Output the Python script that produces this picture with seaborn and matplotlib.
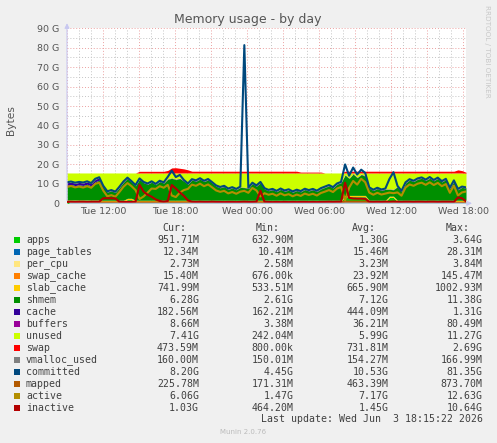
import numpy as np
import matplotlib
matplotlib.use("Agg")
import matplotlib.pyplot as plt
from matplotlib.patches import Rectangle
import seaborn as sns

sns.set_style("white")
plt.rcParams["font.family"] = ["DejaVu Sans"]

W, H = 497, 443

# time axis: hours since Tue 00:00, one sample about every 20 minutes
hours = np.linspace(9, 42.25, 100)
tick_hours = [12, 18, 24, 30, 36, 42]
tick_labels = ["Tue 12:00", "Tue 18:00", "Wed 00:00", "Wed 06:00", "Wed 12:00", "Wed 18:00"]
y_ticks = [0, 10, 20, 30, 40, 50, 60, 70, 80, 90]
y_labels = ["0", "10 G", "20 G", "30 G", "40 G", "50 G", "60 G", "70 G", "80 G", "90 G"]

# stacked areas (GB), near constant ones as runs
apps = [0.95] * 9 + [0.88] * 6 + [1.88] * 2 + [0.88] * 52 + [3.38] * 6 + [0.88] * 5 + [2.98] * 2 + [0.88] * 18
page_tables = [0.012] * 100
per_cpu = [0.003] * 100
swap_cache = [0.02] * 100
slab_cache = [0.70] * 9 + [0.65] * 91
shmem = [7.6, 8.0, 7.4, 7.8, 7.5, 8.1, 7.2, 9.4, 10.2,
         7.0, 4.2, 4.8, 4.0, 6.5, 9.2,
         10.2, 8.4,
         7.4, 10.8, 9.0, 8.2, 9.3, 8.0, 9.6, 8.8, 10.8, 11.3, 10.6, 11.2, 9.8, 8.2, 10.4, 9.8, 10.9, 9.6,
         10.5, 8.9, 7.2, 6.4, 7.0, 5.6, 6.3, 5.4, 6.6, 6.5, 6.0, 8.6, 7.2, 9.0, 5.8, 4.9, 5.4, 4.4, 5.6,
         4.6, 5.2, 4.1, 5.0, 4.3, 5.5, 4.8, 5.4, 4.5, 5.8, 6.6, 7.4, 6.3, 8.2, 9.0,
         10.5, 8.7, 11.0, 9.1, 10.7, 9.9,
         6.2, 5.0, 6.0, 5.1, 5.6,
         3.5, 3.3,
         7.0, 4.4, 8.8, 10.4, 9.6, 10.8, 11.3, 10.2, 11.3, 10.0, 11.2, 9.4, 10.6, 6.0, 9.8, 5.4, 6.6, 6.28]
cache = [1.25] * 9 + [0.22] * 91
buffers = [0.065] * 9 + [0.015] * 91
unused = [5.0, 4.6, 5.2, 4.8, 5.1, 4.5, 5.4, 3.2, 2.4,
          6.8, 9.6, 9.0, 9.8, 7.3, 4.6,
          2.6, 4.4,
          6.4, 3.0, 4.8, 5.6, 4.5, 5.8, 4.2, 5.0, 3.0, 2.5, 3.2, 2.6, 4.0, 5.6, 3.4, 4.0, 2.9, 4.2,
          3.3, 4.9, 6.6, 7.4, 6.8, 8.2, 7.5, 8.4, 7.2, 7.3, 7.8, 5.2, 6.6, 4.8, 8.0, 8.9, 8.4, 9.4, 8.2,
          9.2, 8.6, 9.7, 8.8, 9.5, 8.3, 9.0, 8.4, 9.3, 8.0, 7.2, 6.4, 7.5, 5.6, 4.8,
          0.8, 2.6, 0.3, 2.2, 0.6, 1.4,
          7.6, 8.8, 7.8, 8.7, 8.2,
          8.2, 8.4,
          6.8, 9.4, 5.0, 3.4, 4.2, 3.0, 2.5, 3.6, 2.5, 3.8, 2.6, 4.4, 3.2, 7.8, 4.0, 8.4, 7.2, 7.41]
swap = [0.001] * 18 + [0.85] * 7 + [1.3, 2.6, 2.69, 2.4, 2.1, 1.6] + [0.9] * 27 + [0.45] * 6 + \
       [0.001] * 5 + [0.9] * 28 + [1.6, 1.2, 0.47]

# lines (GB)
vmalloc_used = [0.16] * 100
committed = [10.8, 11.2, 10.6, 11.0, 10.7, 11.3, 10.4, 12.6, 13.4,
             9.0, 6.2, 6.8, 6.0, 8.5, 11.2,
             13.2, 11.4,
             9.4, 12.8, 11.0, 10.2, 11.3, 10.0, 11.6, 10.8, 13.6, 16.8, 13.5, 14.6, 12.0, 10.2, 12.4, 11.8,
             12.9, 11.6, 12.5, 10.9, 9.2, 8.4, 9.0, 7.6, 8.3, 7.4, 8.6, 81.35, 8.0, 10.6, 9.2, 11.0, 7.8,
             6.9, 7.4, 6.4, 7.6, 6.6, 7.2, 6.1, 7.0, 6.3, 7.5, 6.8, 7.4, 6.5, 7.8, 8.6, 9.4, 8.3, 10.2, 11.0,
             20.0, 14.2, 18.4, 14.8, 17.3, 15.6,
             8.2, 7.0, 8.0, 7.1, 7.6,
             12.5, 16.0,
             9.0, 6.4, 10.8, 12.4, 11.6, 12.8, 13.3, 12.2, 13.5, 12.0, 13.2, 11.4, 12.6, 8.0, 11.8, 7.4, 8.6, 8.2]
mapped = [0.35] * 9 + [0.4] * 8 + [0.45] * 52 + [0.85] * 6 + [0.5] * 7 + [0.25] * 18
active = [8.4, 8.9, 8.2, 8.6, 8.1, 8.8, 8.0, 10.0, 10.6,
          6.5, 3.6, 4.2, 3.4, 5.8, 8.5,
          10.4, 8.8,
          6.8, 2.2, 3.5, 5.5, 7.6, 7.4, 8.8, 8.0, 9.5, 4.0, 3.2, 5.5, 6.8, 7.4, 9.6, 9.0, 10.1, 8.8,
          9.7, 8.2, 6.6, 5.9, 6.4, 5.1, 5.8, 4.9, 6.0, 6.4, 5.4, 7.9, 6.6, 3.5, 5.2, 4.4, 4.9, 3.9, 5.1,
          4.1, 4.7, 3.6, 4.5, 3.8, 5.0, 4.3, 4.9, 4.0, 5.3, 6.0, 6.8, 5.8, 7.6, 8.4,
          1.5, 8.0, 11.5, 9.6, 12.6, 10.8,
          5.5, 4.4, 5.4, 4.5, 5.0,
          5.5, 5.2,
          5.6, 3.9, 8.1, 9.7, 9.0, 10.1, 10.6, 9.5, 10.8, 9.4, 10.5, 8.8, 9.9, 5.4, 9.1, 4.0, 5.6, 6.06]
inactive = [0.8, 0.8, 0.7, 0.8, 0.8, 0.7, 0.8, 0.8, 0.8,
            2.6, 2.6, 2.6, 2.5, 0.8, 0.7,
            0.7, 0.7,
            0.8, 9.5, 6.0, 4.4, 3.4, 2.0, 1.2, 0.8, 1.2, 9.4, 7.6, 5.6, 3.8, 1.5, 0.8,
            0.7, 0.8, 0.7, 0.7, 0.8, 0.7, 0.7, 0.6, 0.7, 0.7, 0.6, 0.7, 0.8, 0.7, 0.7,
            0.8, 6.5, 0.8,
            0.7, 0.6, 0.7, 0.6, 0.7, 0.6, 0.7, 0.6, 0.7, 0.7, 0.6, 0.7, 0.6, 0.7, 0.7, 0.8, 0.7, 0.8, 0.8,
            10.6, 2.8, 2.5, 2.4, 2.4, 2.3,
            0.8, 0.7, 0.8, 0.7, 0.8,
            0.8, 0.9,
            0.8, 0.7, 0.8, 0.8, 0.7, 0.8, 0.8, 0.7, 0.8, 0.8, 0.7, 0.8, 0.8, 0.8, 0.7, 3.0, 2.6, 1.03]

names = ["apps", "page_tables", "per_cpu", "swap_cache", "slab_cache", "shmem", "cache", "buffers",
         "unused", "swap", "vmalloc_used", "committed", "mapped", "active", "inactive"]
colors = ["#00CC00", "#0066B3", "#FFE680", "#FF8000", "#FFCC00", "#008F00", "#330099", "#990099",
          "#CCFF00", "#FF0000", "#808080", "#00487D", "#B35A00", "#B38F00", "#B30000"]
cur = ["951.71M", "12.34M", "2.73M", "15.40M", "741.99M", "6.28G", "182.56M", "8.66M",
       "7.41G", "473.59M", "160.00M", "8.20G", "225.78M", "6.06G", "1.03G"]
mins = ["632.90M", "10.41M", "2.58M", "676.00k", "533.51M", "2.61G", "162.21M", "3.38M",
        "242.04M", "800.00k", "150.01M", "4.45G", "171.31M", "1.47G", "464.20M"]
avgs = ["1.30G", "15.46M", "3.23M", "23.92M", "665.90M", "7.12G", "444.09M", "36.21M",
        "5.99G", "731.81M", "154.27M", "10.53G", "463.39M", "7.17G", "1.45G"]
maxs = ["3.64G", "28.31M", "3.84M", "145.47M", "1002.93M", "11.38G", "1.31G", "80.49M",
        "11.27G", "2.69G", "166.99M", "81.35G", "873.70M", "12.63G", "10.64G"]

stack = [apps, page_tables, per_cpu, swap_cache, slab_cache, shmem, cache, buffers, unused, swap]
lines = [vmalloc_used, committed, mapped, active, inactive]


def fx(px):
    return px / W


def fy(py):
    return 1 - py / H


fig = plt.figure(figsize=(W / 100, H / 100), dpi=100, facecolor="#F0F0F0")
ax = fig.add_axes([fx(67), fy(203.3), fx(466) - fx(67), fy(28.3) - fy(203.3)])
ax.set_facecolor("white")

# grid: hours dotted grey, every 3h dotted red; 5G grey, 10G red
for h in range(9, 43):
    c = "#EBA0A0" if h % 3 == 0 else "#C4C4C4"
    ax.axvline(h, color=c, lw=0.7, ls=(0, (1, 2)), zorder=0)
for v in range(5, 91, 5):
    c = "#EBA0A0" if v % 10 == 0 else "#C4C4C4"
    ax.axhline(v, color=c, lw=0.7, ls=(0, (1, 2)), zorder=0)

ax.stackplot(hours, *stack, colors=colors[:10], linewidth=0, zorder=2)
for vals, col in zip(lines, colors[10:]):
    sns.lineplot(x=hours, y=vals, color=col, linewidth=1.5, ax=ax, zorder=3)

ax.set_xlim(9, 42.25)
ax.set_ylim(0, 90)
ax.set_xticks(tick_hours)
ax.set_xticklabels(tick_labels)
ax.set_yticks(y_ticks)
ax.set_yticklabels(y_labels)
ax.tick_params(axis="both", length=0, labelsize=6.8, colors="#555555")
ax.tick_params(axis="x", pad=3)
ax.tick_params(axis="y", pad=5.5)
for s in ax.spines.values():
    s.set_visible(False)

# axis arrows
ax.annotate("", xy=(0, 1.045), xytext=(0, 0), xycoords="axes fraction",
            arrowprops=dict(arrowstyle="-|>", color="#C8C8F0", lw=0.8, mutation_scale=7))
ax.annotate("", xy=(1.022, 0), xytext=(0, 0), xycoords="axes fraction",
            arrowprops=dict(arrowstyle="-|>", color="#C8C8F0", lw=0.8, mutation_scale=7))

fig.text(fx(248), fy(19), "Memory usage - by day", ha="center", va="center", fontsize=9, color="#555555")
fig.text(fx(11), fy(120), "Bytes", ha="center", va="center", rotation=90, fontsize=7.7, color="#555555")
fig.text(fx(487), fy(5), "RRDTOOL / TOBI OETIKER", ha="center", va="top", rotation=270,
         fontsize=5.2, color="#C8C8C8")

# legend table
mono = "DejaVu Sans Mono"
for x, head in zip([186, 280, 376, 470], ["Cur:", "Min:", "Avg:", "Max:"]):
    fig.text(fx(x), fy(228), head, ha="right", va="center", family=mono, fontsize=7.1, color="#404040")
for k, name in enumerate(names):
    y = 240 + 12 * k
    fig.add_artist(Rectangle((fx(14), fy(y + 2.8)), 5.5 / W, 5.5 / H, transform=fig.transFigure,
                             facecolor=colors[k], edgecolor="none"))
    fig.text(fx(26), fy(y), name, ha="left", va="center", family=mono, fontsize=7.1, color="#404040")
    for x, col in zip([199, 293.3, 388.3, 482.7], [cur, mins, avgs, maxs]):
        fig.text(fx(x), fy(y), col[k], ha="right", va="center", family=mono, fontsize=7.1, color="#404040")

fig.text(fx(482.7), fy(419.5), "Last update: Wed Jun  3 18:15:22 2026", ha="right", va="center",
         family=mono, fontsize=7.1, color="#404040")
fig.text(fx(243), fy(432), "Munin 2.0.76", ha="center", va="center", fontsize=5, color="#BBBBBB")

fig.savefig("out.png", dpi=100, facecolor=fig.get_facecolor())
